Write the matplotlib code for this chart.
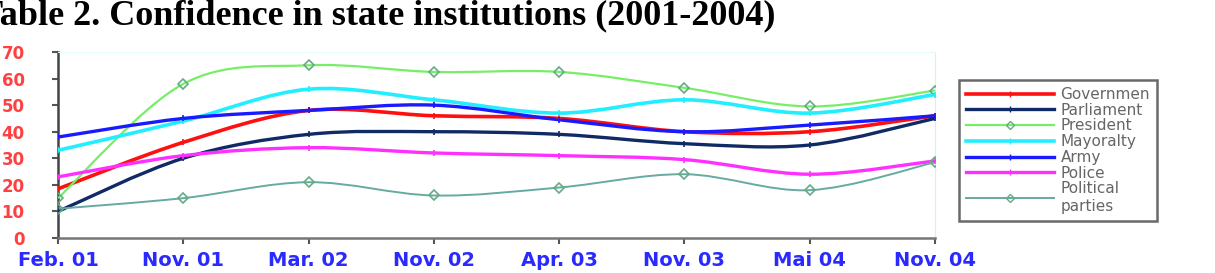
import numpy as np
import matplotlib.pyplot as plt
from matplotlib.path import Path
from matplotlib.patches import PathPatch
from matplotlib.lines import Line2D

periods = ['Feb. 01', 'Nov. 01', 'Mar. 02', 'Nov. 02', 'Apr. 03', 'Nov. 03', 'Mai 04', 'Nov. 04']

government = [18.5, 36, 48, 46, 45, 40, 40, 46]
parliament = [10, 30, 39, 40, 39, 35.5, 35, 45]
president = [15, 58, 65, 62.5, 62.5, 56.5, 49.5, 55.5]
mayoralty = [33, 44, 56, 52, 47, 52, 47, 54]
army = [38, 45, 48, 50, 44.5, 40, 42.5, 46]
police = [23, 31, 34, 32, 31, 29.5, 24, 29]
parties = [11, 15, 21, 16, 19, 24, 18, 28.5]

names = ['Governmen', 'Parliament', 'President', 'Mayoralty', 'Army', 'Police', 'Political\nparties']
series = [government, parliament, president, mayoralty, army, police, parties]
colors = ['#ff1010', '#102a66', '#77ee66', '#22eeff', '#1a1aff', '#ff30ff', '#66aaa0']
widths = [2.6, 2.4, 1.6, 2.6, 2.4, 2.4, 1.4]
markers = ['+', '+', 'D', '+', '+', '+', 'D']


def smooth_path(x, y):
    # excel style smoothed line: cubic bezier through every point
    pts = np.column_stack([x, y]).astype(float)
    n = len(pts)
    verts = [pts[0]]
    codes = [Path.MOVETO]
    for i in range(n - 1):
        p0 = pts[max(i - 1, 0)]
        p1 = pts[i]
        p2 = pts[i + 1]
        p3 = pts[min(i + 2, n - 1)]
        c1 = p1 + (p2 - p0) / 6
        c2 = p2 - (p3 - p1) / 6
        verts += [c1, c2, p2]
        codes += [Path.CURVE4] * 3
    return Path(verts, codes)


fig = plt.figure(figsize=(12.15, 2.73), dpi=100)
ax = fig.add_axes([58 / 1215, 1 - 238 / 273, (935 - 58) / 1215, (238 - 52) / 273])

x = np.arange(len(periods))
for vals, c, lw, m in zip(series, colors, widths, markers):
    ax.add_patch(PathPatch(smooth_path(x, vals), facecolor='none', edgecolor=c, lw=lw, zorder=3))
    if m == 'D':
        ax.plot(x, vals, ls='none', marker='D', ms=5, mfc='none', mec='#66aa88', mew=1.2, zorder=4)
    else:
        ax.plot(x, vals, ls='none', marker='+', ms=4, mec=c, mew=1.2, zorder=4)

ax.set_xlim(0, len(periods) - 1)
ax.set_ylim(0, 70)
ax.set_yticks(range(0, 71, 10))
ax.set_xticks(x)
ax.set_xticklabels(periods, color='#2a2aff', fontweight='bold', fontsize=14)
for lab in ax.get_yticklabels():
    lab.set_color('#ff4040')
    lab.set_fontweight('bold')
    lab.set_fontsize(12)
ax.tick_params(axis='both', direction='out', length=4, width=1.5, color='#555555')
ax.tick_params(axis='x', pad=5)
ax.tick_params(axis='y', pad=20)

ax.spines['left'].set_color('#444444')
ax.spines['left'].set_linewidth(1.8)
ax.spines['bottom'].set_color('#777777')
ax.spines['bottom'].set_linewidth(1.8)
ax.spines['top'].set_color('#e6fbfb')
ax.spines['right'].set_color('#ccf6f6')

handles = []
for c, lw, m in zip(colors, widths, markers):
    if m == 'D':
        handles.append(Line2D([], [], color=c, lw=lw, marker='D', ms=4, mfc='none', mec='#66aa88'))
    else:
        handles.append(Line2D([], [], color=c, lw=lw, marker='+', ms=4, mec=c))
leg = fig.legend(handles, names, loc='upper left', bbox_to_anchor=(959 / 1215, 1 - 80 / 273),
                 frameon=True, fancybox=False, edgecolor='#444444', fontsize=11,
                 handlelength=5.8, handletextpad=0.4, labelspacing=0.05, borderpad=0.45,
                 borderaxespad=0)
leg.get_frame().set_linewidth(1.8)
for t in leg.get_texts():
    t.set_color('#666666')

fig.text(-0.017, 1.003, 'Table 2. Confidence in state institutions (2001-2004)',
         family='Liberation Serif', fontweight='bold', fontsize=26, va='top', ha='left')

fig.savefig('out.png', dpi=100)
